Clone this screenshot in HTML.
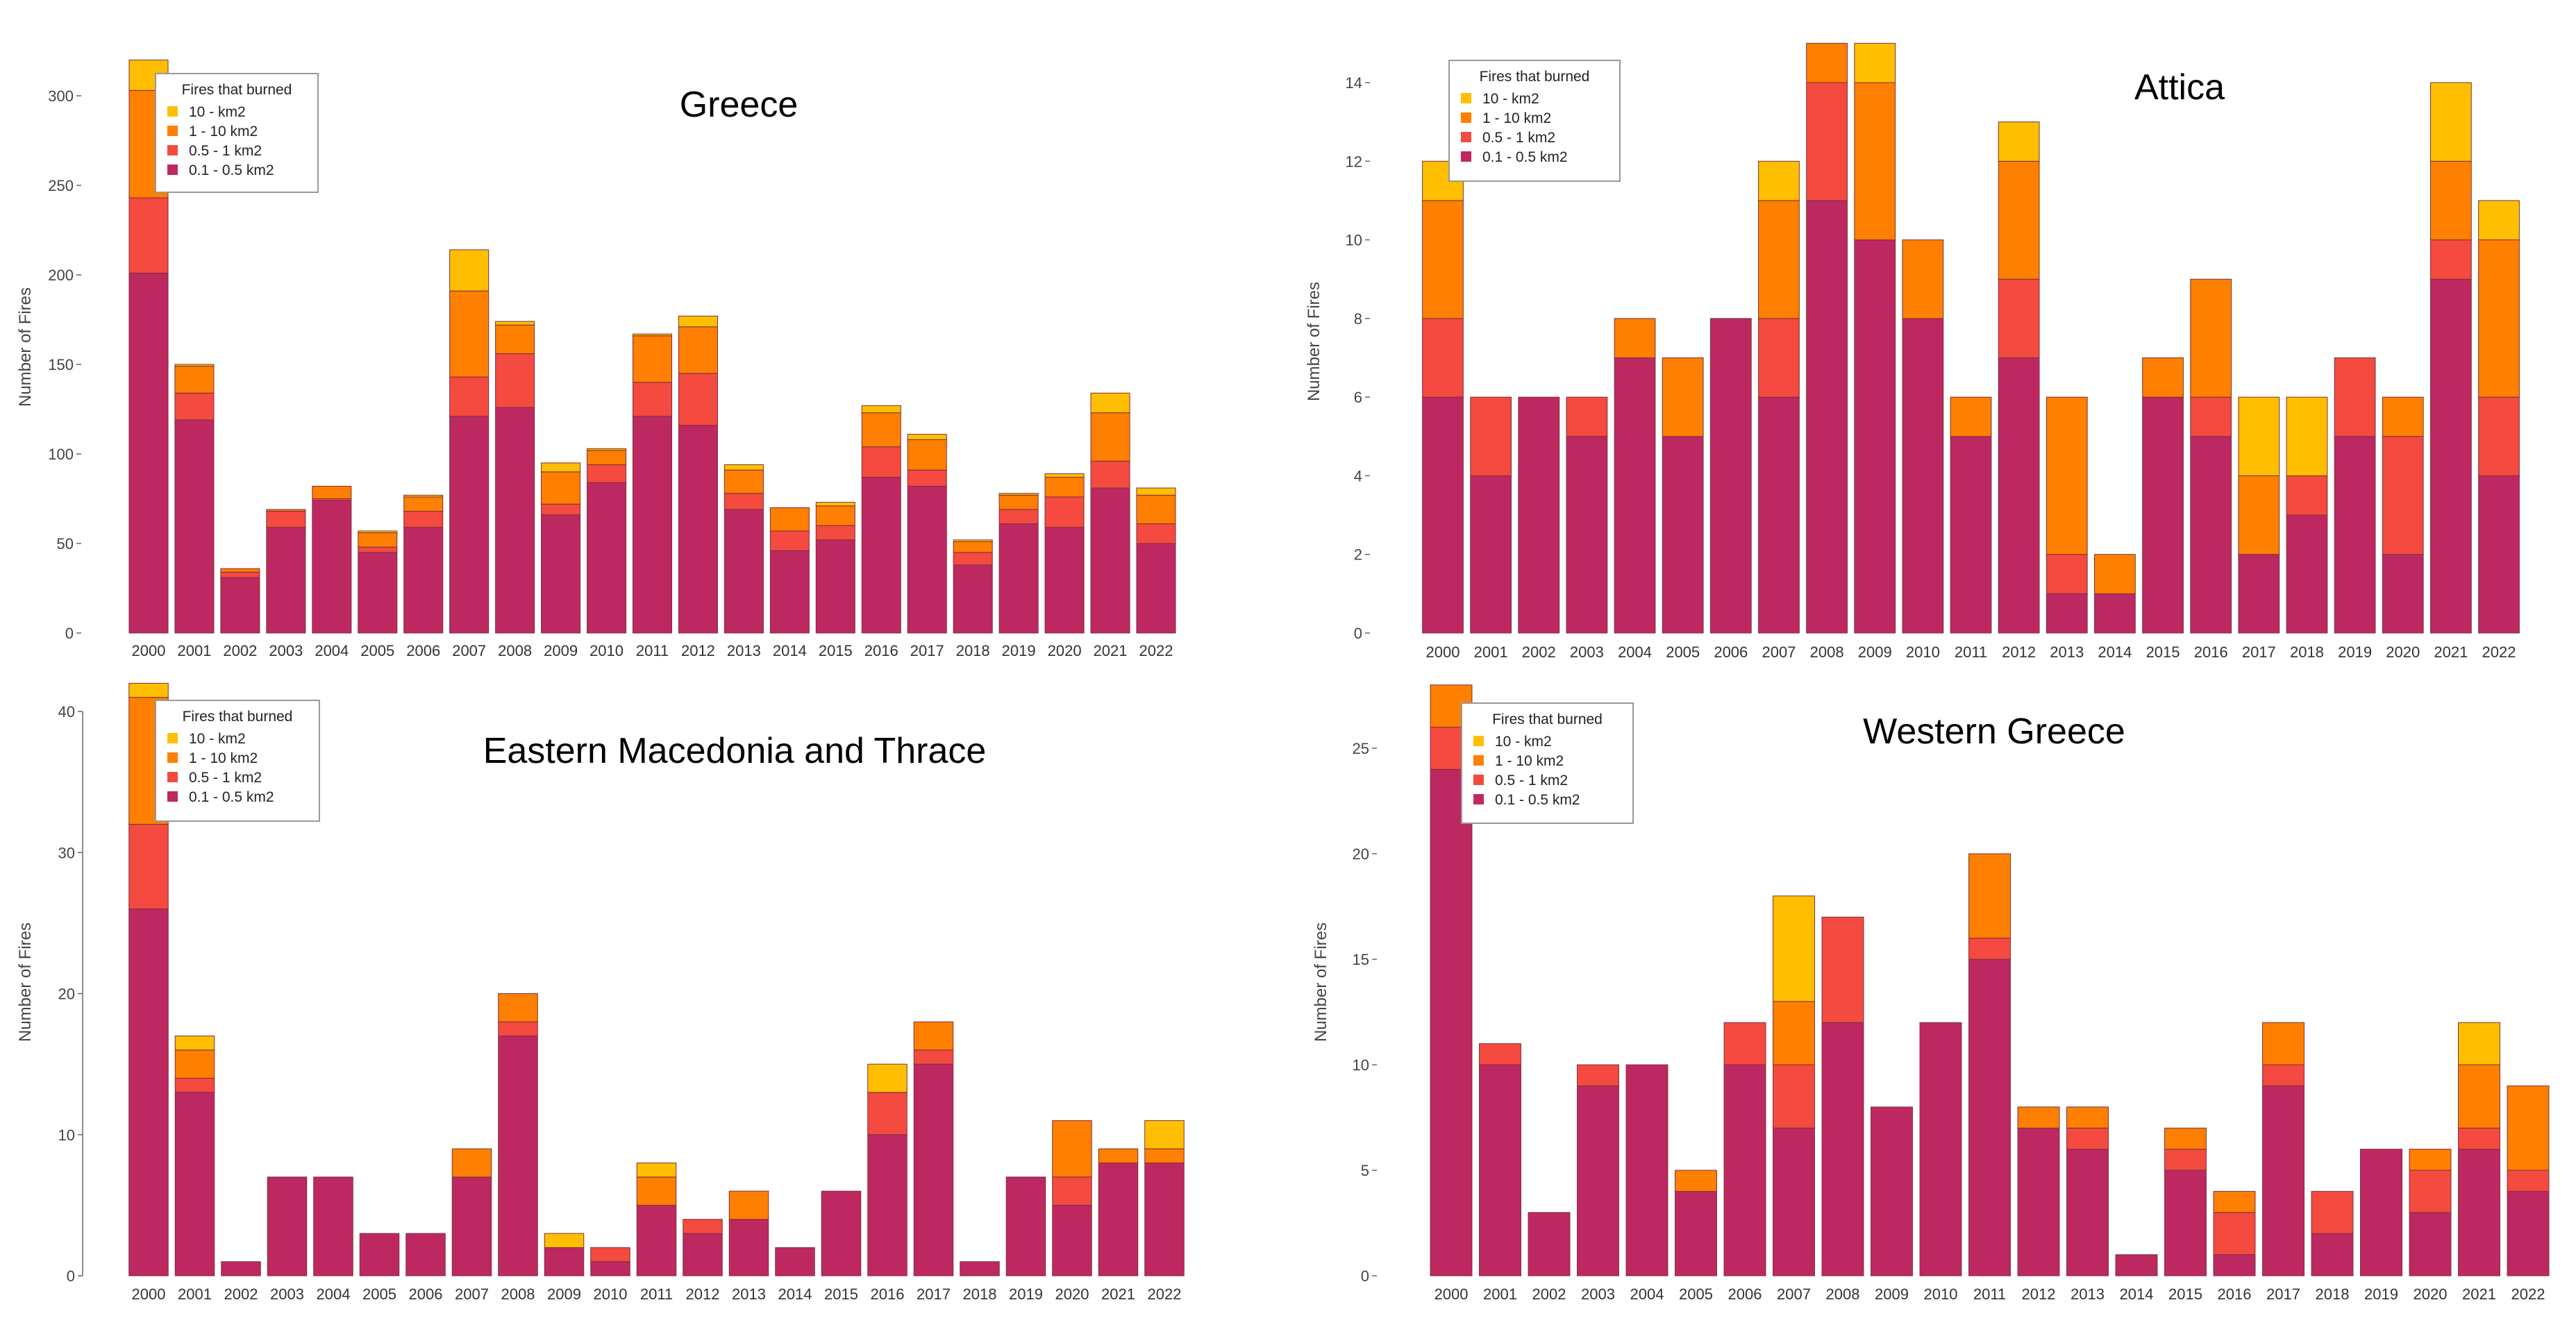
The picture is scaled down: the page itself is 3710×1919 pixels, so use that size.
<!DOCTYPE html>
<html><head><meta charset="utf-8">
<style>
html,body{margin:0;padding:0;background:#fff;}
svg{display:block;font-family:"Liberation Sans",Arial,sans-serif;}
</style></head>
<body>
<svg id="chart" width="3710" height="1919" viewBox="0 0 3710 1919" xmlns="http://www.w3.org/2000/svg"></svg>
<script>
const years = ["2000","2001","2002","2003","2004","2005","2006","2007","2008","2009","2010","2011","2012","2013","2014","2015","2016","2017","2018","2019","2020","2021","2022"];
const legendOrder = ["10   -      km2","1   - 10   km2","0.5 -  1   km2","0.1 -  0.5 km2"];

const greeceSmall = [201,119,31,59,74,45,59,121,126,66,84,121,116,69,46,52,87,82,38,61,59,81,50];
const greeceMid   = [42,15,3,9,1,3,9,22,30,6,10,19,29,9,11,8,17,9,7,8,17,15,11];
const greeceLarge = [60,15,2,1,7,8,8,48,16,18,8,26,26,13,13,11,19,17,6,8,11,27,16];
const greeceHuge  = [17,1,0,0,0,1,1,23,2,5,1,1,6,3,0,2,4,3,1,1,2,11,4];
const greeceTicks = [0,50,100,150,200,250,300];

const atticaSmall = [6,4,6,5,7,5,8,6,11,10,8,5,7,1,1,6,5,2,3,5,2,9,4];
const atticaMid   = [2,2,0,1,0,0,0,2,3,0,0,0,2,1,0,0,1,0,1,2,3,1,2];
const atticaLarge = [3,0,0,0,1,2,0,3,1,4,2,1,3,4,1,1,3,2,0,0,1,2,4];
const atticaHuge  = [1,0,0,0,0,0,0,1,0,1,0,0,1,0,0,0,0,2,2,0,0,2,1];
const atticaTicks = [0,2,4,6,8,10,12,14];

const emtSmall = [26,13,1,7,7,3,3,7,17,2,1,5,3,4,2,6,10,15,1,7,5,8,8];
const emtMid   = [6,1,0,0,0,0,0,0,1,0,1,0,1,0,0,0,3,1,0,0,2,0,0];
const emtLarge = [9,2,0,0,0,0,0,2,2,0,0,2,0,2,0,0,0,2,0,0,4,1,1];
const emtHuge  = [1,1,0,0,0,0,0,0,0,1,0,1,0,0,0,0,2,0,0,0,0,0,2];
const emtTicks = [0,10,20,30,40];

const wgSmall = [24,10,3,9,10,4,10,7,12,8,12,15,7,6,1,5,1,9,2,6,3,6,4];
const wgMid   = [2,1,0,1,0,0,2,3,5,0,0,1,0,1,0,1,2,1,2,0,2,1,1];
const wgLarge = [2,0,0,0,0,1,0,3,0,0,0,4,1,1,0,1,1,2,0,0,1,3,4];
const wgHuge  = [0,0,0,0,0,0,0,5,0,0,0,0,0,0,0,0,0,0,0,0,0,2,0];
const wgTicks = [0,5,10,15,20,25];

const colors = ["#BE2860","#F44A40","#FF7F00","#FFBF00"];
const NS = "http://www.w3.org/2000/svg";
const svg = document.getElementById("chart");

function mk(tag, attrs, parent, text){
  const e = document.createElementNS(NS, tag);
  for (const k in attrs) e.setAttribute(k, attrs[k]);
  if (text !== undefined) e.textContent = text;
  (parent||svg).appendChild(e);
  return e;
}

function panel(p){
  const g = mk("g", {});
  
  
  const step = (p.x22 - p.x0) / (years.length - 1);
  const bw = step * 0.85;
  const yScale = v => p.yZero - (v / p.vRef) * (p.yZero - p.yRef);
  const xScale = i => p.x0 + i * step;
  const series = [p.small, p.mid, p.large, p.huge];
  const segNames = ['small','mid','large','huge'];
  for (let i = 0; i < years.length; i++){
    let base = 0;
    for (let s = 0; s < 4; s++){
      const v = series[s][i];
      if (v <= 0) continue;
      const y1 = yScale(base + v), y0 = yScale(base);
      const r = mk("rect", {x: xScale(i) - bw/2, y: y1, width: bw, height: y0 - y1, fill: colors[s], stroke: "#7a3040", "stroke-width": 1}, g);
      
      
      base += v;
    }
    const t = mk("text", {x: xScale(i), y: p.yearY, "font-size": 22, "text-anchor": "middle", fill: "#333"}, g, years[i]);
    
    
  }
  for (const tv of p.ticks){
    const ty = yScale(tv);
    const tk = mk("line", {x1: p.tickX, x2: p.tickX + 7, y1: ty, y2: ty, stroke: "#666", "stroke-width": 1.5}, g);
    
    
    const tl = mk("text", {x: p.tickX - 4, y: ty + 8, "font-size": 22, "text-anchor": "end", fill: "#444"}, g, String(tv));
    
    
  }
  if (p.axisLine){
    const al = mk("line", {x1: p.tickX + 7, x2: p.tickX + 7, y1: yScale(p.ticks[p.ticks.length-1]), y2: p.yZero, stroke: "#666", "stroke-width": 1.5}, g);
    
    
  }
  const yt = mk("text", {x: p.ytX, y: p.ytY, "font-size": 24, "text-anchor": "middle", fill: "#444", transform: "rotate(-90 " + p.ytX + " " + p.ytY + ")"}, g, "Number of Fires");
  
  
  const tt = mk("text", {x: p.titleX, y: p.titleY, "font-size": 52, "text-anchor": "middle", fill: "#000"}, g, p.title);
  
  
  const lg = mk("g", {}, g);
  
  
  const lb = mk("rect", {x: p.lx, y: p.ly, width: p.lw, height: p.lh, fill: "#fff", stroke: "#999", "stroke-width": 2}, lg);
  
  
  const lt = mk("text", {x: p.lx + p.lw/2, y: p.ly + 30, "font-size": 21, "text-anchor": "middle", fill: "#222"}, lg, "Fires that burned");
  
  
  for (let k = 0; k < 4; k++){
    const ey = p.ly + 62 + k * 28;
    const sw = mk("rect", {x: p.lx + 17, y: ey - 15, width: 15, height: 15, fill: colors[3-k]}, lg);
    
    
    const et = mk("text", {x: p.lx + 48, y: ey, "font-size": 21, fill: "#222"}, lg, legendOrder[k]);
    
    
  }
}

panel({id:"greece", title:"Greece", small:greeceSmall, mid:greeceMid, large:greeceLarge, huge:greeceHuge, ticks:greeceTicks,
  x0:214, x22:1665, yZero:912, yRef:138, vRef:300, yearY:945, tickX:110, ytX:44, ytY:500,
  titleX:1064, titleY:168, lx:224, ly:106, lw:234, lh:171, axisLine:false});
panel({id:"attica", title:"Attica", small:atticaSmall, mid:atticaMid, large:atticaLarge, huge:atticaHuge, ticks:atticaTicks,
  x0:2078, x22:3599, yZero:912, yRef:119, vRef:14, yearY:947, tickX:1966, ytX:1900, ytY:492,
  titleX:3139, titleY:143, lx:2087, ly:87, lw:246, lh:174, axisLine:false});
panel({id:"emt", title:"Eastern Macedonia and Thrace", small:emtSmall, mid:emtMid, large:emtLarge, huge:emtHuge, ticks:emtTicks,
  x0:214, x22:1677, yZero:1838, yRef:1025, vRef:40, yearY:1872, tickX:112, ytX:44, ytY:1415,
  titleX:1058, titleY:1099, lx:224, ly:1009, lw:236, lh:174, axisLine:true});
panel({id:"western-greece", title:"Western Greece", small:wgSmall, mid:wgMid, large:wgLarge, huge:wgHuge, ticks:wgTicks,
  x0:2090, x22:3641, yZero:1838, yRef:1078, vRef:25, yearY:1872, tickX:1976, ytX:1910, ytY:1415,
  titleX:2872, titleY:1071, lx:2105, ly:1013, lw:247, lh:173, axisLine:false});
</script>
</body></html>
